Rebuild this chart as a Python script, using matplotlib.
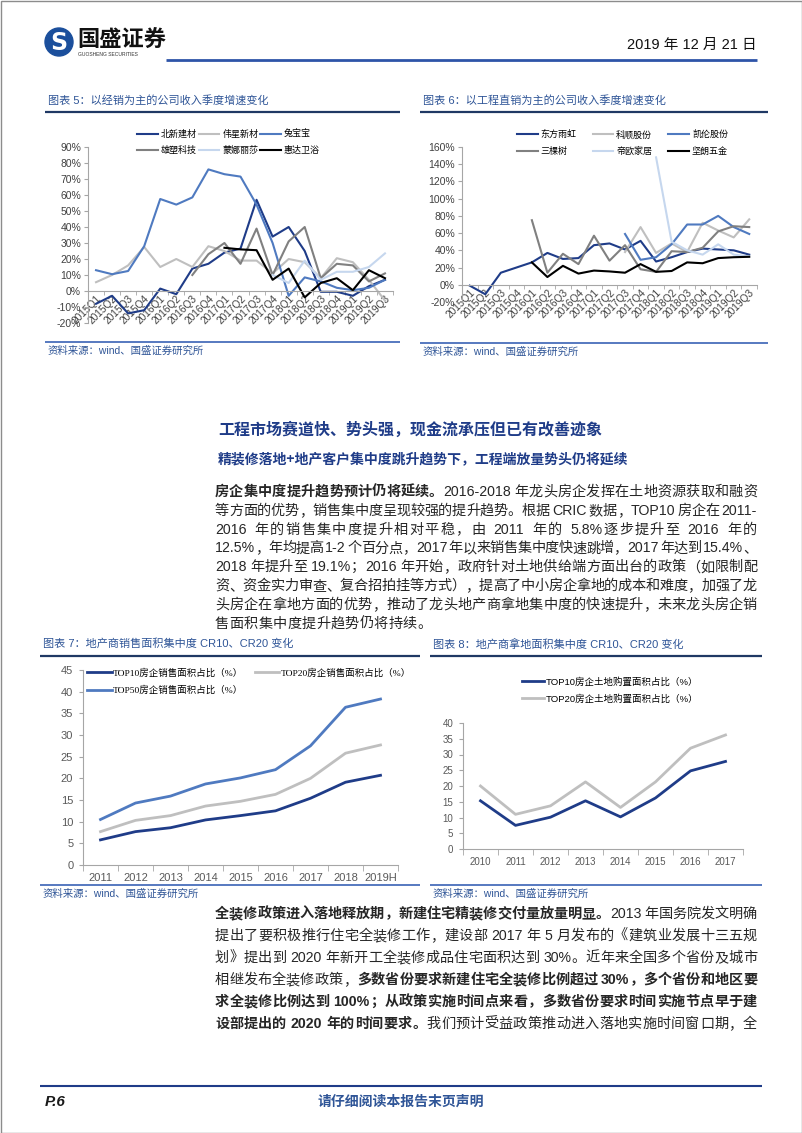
import numpy as np
import matplotlib
matplotlib.use("Agg")
import matplotlib.pyplot as plt
from matplotlib.patches import Circle, Rectangle
from matplotlib.ticker import FuncFormatter

W, H = 802, 1133
CJK = "Noto Sans CJK SC"
SANS = ["Liberation Sans", CJK]
SERIF = ["Liberation Serif", CJK]
plt.rcParams["font.family"] = SANS
plt.rcParams["axes.unicode_minus"] = False

BLUE = "#2F5597"
NAVY = "#1F3C88"
MID = "#4F7AC0"
LGRAY = "#BFBFBF"
DGRAY = "#808080"
PALE = "#C6D7EE"
TXT = "#262626"
nan = np.nan

# ---- data: chart 5 (distribution-led companies, quarterly revenue growth %)
quarters = ["2015Q1", "2015Q2", "2015Q3", "2015Q4", "2016Q1", "2016Q2", "2016Q3",
            "2016Q4", "2017Q1", "2017Q2", "2017Q3", "2017Q4", "2018Q1", "2018Q2",
            "2018Q3", "2018Q4", "2019Q1", "2019Q2", "2019Q3"]
names5 = ["北新建材", "伟星新材", "兔宝宝", "雄塑科技", "蒙娜丽莎", "惠达卫浴"]
beixin = [-8, -3, -14, -12, 1.5, -2, 14, 17, 24, 26.5, 57, 34, 40, 25, -0.5, -0.5, -3, 3, 7]
weixing = [5.5, 10, 16, 27.5, 15, 20, 15, 28, 25, 19, 19, 11, 20, 18, 8, 20.5, 18, 7, -6]
tubaobao = [13, 10.5, 12.5, 28, 57.5, 54, 58.5, 76, 73, 71.5, 54, 30, -3, 8.5, 6, 2, 0.5, 2, 7]
xiongsu = [nan, nan, nan, nan, nan, nan, 10, 23, 30, 17, 39, 10, 31, 40, 8, 17, 16, 6, 11]
mengna = [nan, nan, nan, nan, nan, nan, nan, nan, nan, nan, nan, 10, 5, 19, 7, 12, 12, 15, 23.5]
huida = [nan, nan, nan, nan, nan, nan, nan, nan, 27, 26, 25.5, 7, 14, -4, 5, 8, 0.5, 13, 8]

# ---- data: chart 6 (project-led companies)
names6 = ["东方雨虹", "科顺股份", "凯伦股份", "三棵树", "帝欧家居", "坚朗五金"]
dongfang = [-1, -11, 14, 20, 26, 37, 30, 31, 46, 48, 41, 51, 27, 32, 38, 42, 41, 40, 35]
keshun = [nan, nan, nan, nan, nan, nan, nan, nan, nan, nan, 38, 67, 37, 48, 38, 72, 63, 55, 76]
kailun = [nan, nan, nan, nan, nan, nan, nan, nan, nan, nan, 59, 29, 32, 47, 70, 70, 80, 67, 59]
sankeshu = [nan, nan, nan, nan, 75, 14, 36, 24, 57, 28, 46, 18, 15, 39, 38, 43, 62, 68, 67]
diou = [nan, nan, nan, nan, nan, nan, nan, nan, nan, nan, nan, nan, 148, 50, 40, 35, 47, 35, 33]
jianlang = [nan, nan, nan, nan, 26, 9, 22, 13, 16.5, 15.5, 14, 24, 15, 16, 26, 25, 31, 32, 32.5]

# ---- data: chart 7 (sales area concentration)
years7 = ["2011", "2012", "2013", "2014", "2015", "2016", "2017", "2018", "2019H"]
top10_sales = [5.8, 7.7, 8.6, 10.4, 11.4, 12.5, 15.4, 19.1, 20.7]
top20_sales = [7.7, 10.3, 11.4, 13.6, 14.7, 16.3, 20.0, 25.8, 27.7]
top50_sales = [10.5, 14.3, 15.9, 18.7, 20.1, 22.0, 27.5, 36.4, 38.3]

# ---- data: chart 8 (land purchase concentration)
years8 = ["2010", "2011", "2012", "2013", "2014", "2015", "2016", "2017"]
top10_land = [15.3, 7.5, 10.1, 15.3, 10.2, 16.2, 24.8, 27.8]
top20_land = [20.0, 11.0, 13.7, 21.3, 13.2, 21.3, 32.0, 36.2]

fig = plt.figure(figsize=(W / 100, H / 100), dpi=100)
bg = fig.add_axes([0, 0, 1, 1])
bg.set_xlim(0, W)
bg.set_ylim(H, 0)
bg.axis("off")


def box(x0, y0, x1, y1):
    return [x0 / W, 1 - y1 / H, (x1 - x0) / W, (y1 - y0) / H]


def hline(x0, x1, y, color, lw):
    bg.plot([x0, x1], [y, y], color=color, lw=lw, solid_capstyle="butt")


# page frame + header
bg.add_patch(Rectangle((0.5, 0.5), W - 1, H - 1, fill=False, ec="#8C8C8C", lw=1))
bg.add_patch(Circle((59, 42), 14, color="#1B4F9C"))
bg.text(59, 43, "S", color="white", fontsize=17, fontweight="bold", family="DejaVu Sans",
        ha="center", va="center")
bg.text(77, 40, "国盛证券", fontsize=16, fontweight="bold", family=CJK, color="#111111",
        va="center")
bg.text(78, 55, "GUOSHENG SECURITIES", fontsize=3.6, color="#333333", va="center")
bg.text(757, 45, "2019 年 12 月 21 日", fontsize=10.5, color="#111111", ha="right",
        va="center", family=SANS)
hline(166, 757, 60, "#2E54A8", 2)

# chart titles / sources
for x0, x1, ty, title in [(45, 400, 100, "图表 5：以经销为主的公司收入季度增速变化"),
                          (420, 768, 100, "图表 6：以工程直销为主的公司收入季度增速变化"),
                          (40, 420, 644, "图表 7：地产商销售面积集中度 CR10、CR20 变化"),
                          (430, 762, 644, "图表 8：地产商拿地面积集中度 CR10、CR20 变化")]:
    bg.text(x0 + 3, ty, title, fontsize=8, color=BLUE, va="center", family=SANS)
    hline(x0, x1, ty + 12, "#1F3864", 1.6)

for x0, x1, y in [(45, 400, 342), (420, 768, 343), (40, 420, 885), (430, 762, 885)]:
    hline(x0, x1, y, "#3A62B5", 1.2)
    bg.text(x0 + 3, y + 9, "资料来源：wind、国盛证券研究所", fontsize=7.5, color=BLUE,
            va="center", family=SANS)


def pct(v, pos):
    return f"{v:.0f}%"


def quarter_axes(ax, ylo, yhi, step):
    ax.set_xlim(-0.5, len(quarters) - 0.5)
    ax.set_ylim(ylo, yhi)
    ax.set_yticks(np.arange(ylo, yhi + 1, step))
    ax.yaxis.set_major_formatter(FuncFormatter(pct))
    for s in ["top", "right"]:
        ax.spines[s].set_visible(False)
    for s in ["left", "bottom"]:
        ax.spines[s].set_color("#A6A6A6")
        ax.spines[s].set_linewidth(0.8)
    ax.spines["bottom"].set_position(("data", 0))
    ax.set_xticks(np.arange(len(quarters) + 1) - 0.5, minor=True)
    ax.tick_params(axis="x", which="major", length=0, pad=2, labelsize=7.3, colors="#404040")
    ax.tick_params(axis="x", which="minor", length=3, color="#A6A6A6", direction="out")
    ax.tick_params(axis="y", length=3, color="#A6A6A6", labelsize=7.5, colors="#404040", pad=2)
    plt.setp(ax.get_xticklabels(), rotation=45, ha="right", rotation_mode="anchor")
    ax.patch.set_alpha(0)


colors = [NAVY, LGRAY, MID, DGRAY, PALE, "black"]
leg_order = [0, 3, 1, 4, 2, 5]

# chart 5
ax5 = fig.add_axes(box(88, 147, 393, 323))
for name, vals, c in zip(names5, [beixin, weixing, tubaobao, xiongsu, mengna, huida], colors):
    ax5.plot(quarters, vals, color=c, lw=1.5, label=name)
quarter_axes(ax5, -20, 90, 10)
h, l = ax5.get_legend_handles_labels()
ax5.legend([h[i] for i in leg_order], [l[i] for i in leg_order], ncol=3, loc="upper left",
           bbox_to_anchor=(137, 130), bbox_transform=bg.transData, frameon=False,
           prop={"family": CJK, "size": 6.5}, handlelength=2.3, handletextpad=0.3,
           columnspacing=0.25, labelspacing=0.75, borderpad=0, borderaxespad=0)

# chart 6
ax6 = fig.add_axes(box(462, 147, 757, 302))
for name, vals, c in zip(names6, [dongfang, keshun, kailun, sankeshu, diou, jianlang], colors):
    ax6.plot(quarters, vals, color=c, lw=1.5, label=name)
quarter_axes(ax6, -20, 160, 20)
h, l = ax6.get_legend_handles_labels()
ax6.legend([h[i] for i in leg_order], [l[i] for i in leg_order], ncol=3, loc="upper left",
           bbox_to_anchor=(517, 130), bbox_transform=bg.transData, frameon=False,
           prop={"family": CJK, "size": 6.5}, handlelength=2.3, handletextpad=0.3,
           columnspacing=1.8, labelspacing=0.85, borderpad=0, borderaxespad=0)


def year_axes(ax, cats, yhi, lsize):
    ax.set_xlim(-0.5, len(cats) - 0.5)
    ax.set_ylim(0, yhi)
    ax.set_yticks(np.arange(0, yhi + 1, 5))
    for s in ["top", "right"]:
        ax.spines[s].set_visible(False)
    for s in ["left", "bottom"]:
        ax.spines[s].set_color("#A6A6A6")
        ax.spines[s].set_linewidth(0.8)
    ax.set_xticks(np.arange(len(cats) + 1) - 0.5, minor=True)
    ax.tick_params(axis="x", which="major", length=0, pad=6, labelsize=lsize, colors="#595959")
    ax.tick_params(axis="x", which="minor", length=4, color="#A6A6A6")
    ax.tick_params(axis="y", length=3, color="#A6A6A6", labelsize=lsize, colors="#595959", pad=4)
    ax.patch.set_alpha(0)


# chart 7
ax7 = fig.add_axes(box(83, 670, 398, 865))
l10, = ax7.plot(years7, top10_sales, color=NAVY, lw=2)
l20, = ax7.plot(years7, top20_sales, color=LGRAY, lw=2)
l50, = ax7.plot(years7, top50_sales, color=MID, lw=2)
year_axes(ax7, years7, 45, 8)
ax7.legend([l10, l50, l20], ["TOP10房企销售面积占比（%）", "TOP50房企销售面积占比（%）",
                             "TOP20房企销售面积占比（%）"],
           ncol=2, loc="upper left", bbox_to_anchor=(87, 668), bbox_transform=bg.transData,
           frameon=False, prop={"family": SERIF, "size": 6.8}, handlelength=2.6,
           handletextpad=0.15, columnspacing=1.2, labelspacing=0.85, borderpad=0,
           borderaxespad=0)

# chart 8
ax8 = fig.add_axes(box(463, 723, 743, 849))
m10, = ax8.plot(years8, top10_land, color=NAVY, lw=2)
m20, = ax8.plot(years8, top20_land, color=LGRAY, lw=2)
year_axes(ax8, years8, 40, 7)
ax8.legend([m10, m20], ["TOP10房企土地购置面积占比（%）", "TOP20房企土地购置面积占比（%）"],
           loc="upper left", bbox_to_anchor=(522, 677), bbox_transform=bg.transData,
           frameon=False, prop={"family": SANS, "size": 6.8}, handlelength=2.3,
           handletextpad=0.2, labelspacing=0.75, borderpad=0, borderaxespad=0)

# section headings
bg.text(218, 430, "工程市场赛道快、势头强，现金流承压但已有改善迹象", fontsize=11.5,
        fontweight="bold", color=NAVY, va="center", family=CJK)
bg.text(218, 460, "精装修落地+地产客户集中度跳升趋势下，工程端放量势头仍将延续", fontsize=10,
        fontweight="bold", color=NAVY, va="center", family=CJK)

# body text, justified line by line (extra room goes mostly into the spaces)
renderer = fig.canvas.get_renderer()
BODY = 10.2
X0, X1 = 215, 757
SPACE = 3.0


def tokens(segs):
    out = []
    for s, bold in segs:
        buf = ""
        for ch in s:
            if ch == " ":
                if buf:
                    out.append([buf, bold, False])
                    buf = ""
                if out:
                    out[-1][2] = True
                continue
            if ch.isascii():
                buf += ch
                continue
            if buf:
                out.append([buf, bold, False])
                buf = ""
            out.append([ch, bold, False])
        if buf:
            out.append([buf, bold, False])
    return out


def put_line(yc, segs, justify=True):
    toks = tokens(segs)
    arts = []
    for t, b, sp in toks:
        fam = "Liberation Sans" if t.isascii() else CJK
        arts.append(bg.text(0, yc + 5, t, fontsize=BODY, family=fam, color=TXT,
                            fontweight="bold" if b else "normal", va="baseline"))
    widths = [a.get_window_extent(renderer).width for a in arts]
    weights = [4.0 if sp else 1.0 for _, _, sp in toks[:-1]]
    base = sum(widths) + SPACE * sum(1 for _, _, sp in toks[:-1] if sp)
    unit = (X1 - X0 - base) / sum(weights) if justify else 0.3
    x = X0
    for a, w, (_, _, sp) in zip(arts, widths, toks):
        a.set_x(x)
        x += w + (SPACE if sp else 0) + unit * (4.0 if sp else 1.0)


para1 = [
    [("房企集中度提升趋势预计仍将延续。", True), ("2016-2018 年龙头房企发挥在土地资源获取和融资", False)],
    [("等方面的优势，销售集中度呈现较强的提升趋势。根据 CRIC 数据，TOP10 房企在 2011-", False)],
    [("2016 年的销售集中度提升相对平稳，由 2011 年的 5.8%逐步提升至 2016 年的", False)],
    [("12.5%，年均提高 1-2 个百分点，2017 年以来销售集中度快速跳增，2017 年达到 15.4%、", False)],
    [("2018 年提升至 19.1%；2016 年开始，政府针对土地供给端方面出台的政策（如限制配", False)],
    [("资、资金实力审查、复合招拍挂等方式），提高了中小房企拿地的成本和难度，加强了龙", False)],
    [("头房企在拿地方面的优势，推动了龙头地产商拿地集中度的快速提升，未来龙头房企销", False)],
    [("售面积集中度提升趋势仍将持续。", False)],
]
para2 = [
    [("全装修政策进入落地释放期，新建住宅精装修交付量放量明显。", True), ("2013 年国务院发文明确", False)],
    [("提出了要积极推行住宅全装修工作，建设部 2017 年 5 月发布的《建筑业发展十三五规", False)],
    [("划》提出到 2020 年新开工全装修成品住宅面积达到 30%。近年来全国多个省份及城市", False)],
    [("相继发布全装修政策，", False), ("多数省份要求新建住宅全装修比例超过 30%，多个省份和地区要", True)],
    [("求全装修比例达到 100%；从政策实施时间点来看，多数省份要求时间实施节点早于建", True)],
    [("设部提出的 2020 年的时间要求。", True), ("我们预计受益政策推动进入落地实施时间窗口期，全", False)],
]
for i, segs in enumerate(para1):
    put_line(491 + 18.8 * i, segs, justify=i < len(para1) - 1)
for i, segs in enumerate(para2):
    put_line(913 + 22 * i, segs)

# footer
hline(40, 762, 1086, "#1F3C88", 1.5)
bg.text(45, 1102, "P.6", fontsize=11, fontweight="bold", fontstyle="italic", color="#1A1A1A",
        va="center", family="Liberation Sans")
bg.text(401, 1102, "请仔细阅读本报告末页声明", fontsize=10, fontweight="bold", color=BLUE,
        ha="center", va="center", family=CJK)

fig.savefig("out.png", dpi=100)
